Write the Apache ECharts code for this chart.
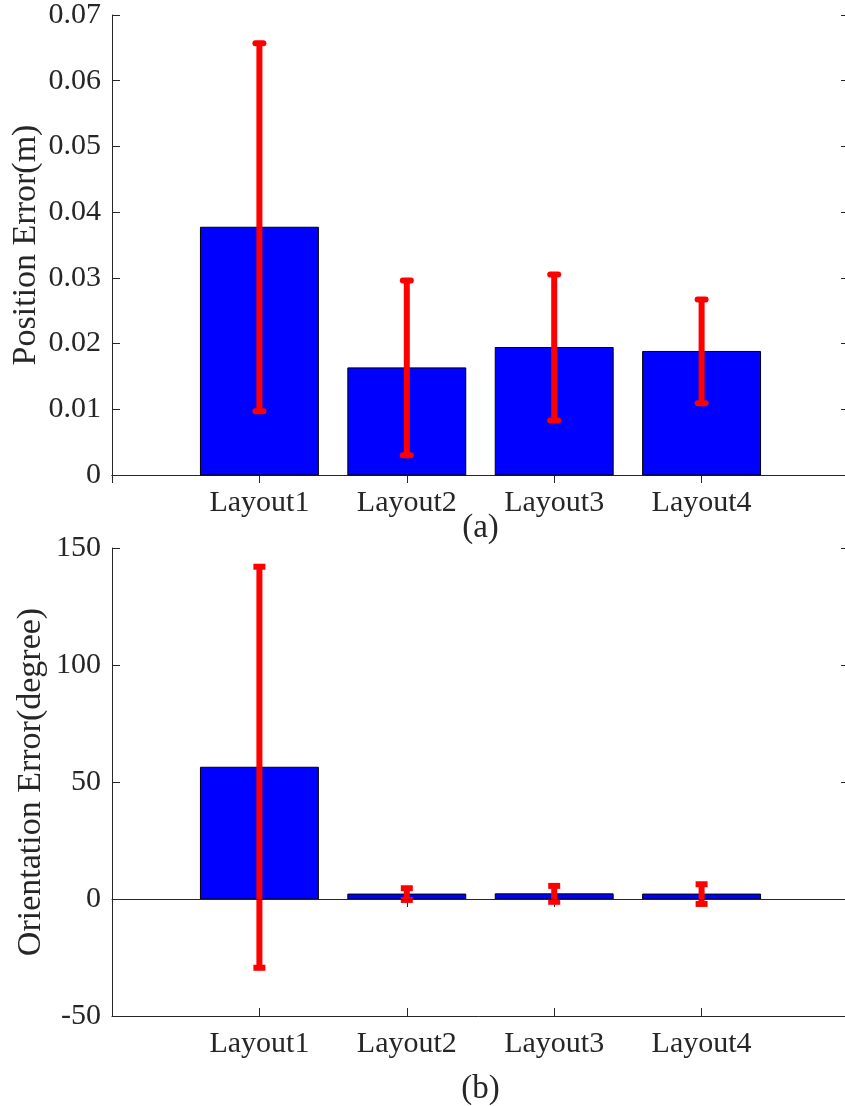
<!DOCTYPE html>
<html>
<head>
<meta charset="utf-8">
<script src="https://cdn.jsdelivr.net/npm/echarts@6/dist/echarts.min.js"></script>
<style>
  html, body { margin: 0; padding: 0; background: #fff; overflow: hidden; }
  #chart { width: 845px; height: 1106px; }
</style>
</head>
<body>
<div id="chart"></div>
<script>
// data
var categories = ['Layout1', 'Layout2', 'Layout3', 'Layout4'];
var posMean = [0.0377, 0.0163, 0.0194, 0.0188];
var posStd = [0.0280, 0.0133, 0.0111, 0.0079];
var oriMean = [56.3, 2.1, 2.2, 2.1];
var oriStd = [85.7, 2.5, 3.4, 4.2];
var posTicks = { min: 0, max: 0.07, interval: 0.01 };
var oriTicks = { min: -50, max: 150, interval: 50 };

var ink = '#262626';
var font = 'Liberation Serif';

function barItems(mean) {
  return mean.map(function (v, i) { return [i + 1, v]; });
}
function errItems(mean, std) {
  return mean.map(function (v, i) { return [i + 1, v - std[i], v + std[i]]; });
}

// blue bars, drawn through the axis scale
function renderBar(params, api) {
  var x = api.value(0);
  var top = api.coord([x, api.value(1)]);
  var base = api.coord([x, 0]);
  var w = api.size([0.8, 0])[0];
  return {
    type: 'rect',
    shape: { x: top[0] - w / 2, y: Math.min(top[1], base[1]), width: w, height: Math.abs(base[1] - top[1]) },
    style: { fill: '#0000ff', stroke: '#000', lineWidth: 1 }
  };
}

function makeErr(capW, cap) {
  return function (params, api) {
    var x = api.value(0);
    var lo = api.coord([x, api.value(1)]);
    var hi = api.coord([x, api.value(2)]);
    var st = { stroke: '#ff0000', lineWidth: 6, lineCap: cap };
    return {
      type: 'group',
      children: [
        { type: 'line', shape: { x1: lo[0], y1: lo[1], x2: hi[0], y2: hi[1] }, style: { stroke: '#ff0000', lineWidth: 6 } },
        { type: 'line', shape: { x1: hi[0] - capW, y1: hi[1], x2: hi[0] + capW, y2: hi[1] }, style: st },
        { type: 'line', shape: { x1: lo[0] - capW, y1: lo[1], x2: lo[0] + capW, y2: lo[1] }, style: st }
      ]
    };
  };
}

function xAxes(gi, name, gap) {
  return [{
    type: 'value', gridIndex: gi, position: 'bottom', min: 0, max: 5, interval: 1,
    name: name, nameLocation: 'middle', nameGap: gap, nameMoveOverlap: false,
    nameTextStyle: { fontFamily: font, fontSize: 33, color: ink },
    axisLine: { onZero: false, lineStyle: { color: ink, width: 1 } },
    axisTick: { inside: true, length: 8, lineStyle: { color: ink } },
    axisLabel: {
      margin: 13, fontFamily: font, fontSize: 30, color: ink,
      formatter: function (v) { return categories[v - 1] || ''; }
    },
    splitLine: { show: false }
  }, {
    type: 'value', gridIndex: gi, position: 'top', min: 0, max: 5, interval: 1,
    axisLine: { lineStyle: { color: ink, width: 1 } },
    axisTick: { inside: true, length: 8, lineStyle: { color: ink } },
    axisLabel: { show: false },
    splitLine: { show: false }
  }];
}

function yAxes(gi, t, name, gap, fmt) {
  return [{
    type: 'value', gridIndex: gi, position: 'left', min: t.min, max: t.max, interval: t.interval,
    name: name, nameLocation: 'middle', nameGap: gap, nameMoveOverlap: false,
    nameTextStyle: { fontFamily: font, fontSize: 34, color: ink },
    axisLine: { show: true, onZero: false, lineStyle: { color: ink, width: 1 } },
    axisTick: { show: true, inside: true, length: 8, lineStyle: { color: ink } },
    axisLabel: { margin: 11, fontFamily: font, fontSize: 30, color: ink, formatter: fmt },
    splitLine: { show: false }
  }, {
    type: 'value', gridIndex: gi, position: 'right', min: t.min, max: t.max, interval: t.interval,
    axisLine: { show: true, onZero: false, lineStyle: { color: ink, width: 1 } },
    axisTick: { show: true, inside: true, length: 8, lineStyle: { color: ink } },
    axisLabel: { show: false },
    splitLine: { show: false }
  }];
}

var chart = echarts.init(document.getElementById('chart'), null, { renderer: 'canvas' });
chart.setOption({
  animation: false,
  backgroundColor: '#fff',
  grid: [
    { left: 112, top: 15, width: 737, height: 460, containLabel: false, outerBoundsMode: 'none' },
    { left: 112, top: 548, width: 737, height: 468, containLabel: false, outerBoundsMode: 'none' }
  ],
  xAxis: xAxes(0, '(a)', 37).concat(xAxes(1, '(b)', 57)),
  yAxis: yAxes(0, posTicks, 'Position Error(m)', 69, function (v) { return v === 0 ? '0' : v.toFixed(2); })
    .concat(yAxes(1, oriTicks, 'Orientation Error(degree)', 64, function (v) { return String(v); })),
  series: [
    { type: 'custom', xAxisIndex: 0, yAxisIndex: 0, renderItem: renderBar, data: barItems(posMean), z: 2 },
    { type: 'custom', xAxisIndex: 0, yAxisIndex: 0, renderItem: makeErr(4, 'round'), data: errItems(posMean, posStd), z: 3 },
    {
      type: 'custom', xAxisIndex: 2, yAxisIndex: 2, renderItem: renderBar, data: barItems(oriMean), z: 2,
      markLine: {
        silent: true, symbol: 'none', label: { show: false },
        lineStyle: { color: ink, width: 1, type: 'solid' },
        data: [{ yAxis: 0 }]
      }
    },
    { type: 'custom', xAxisIndex: 2, yAxisIndex: 2, renderItem: makeErr(3, 'square'), data: errItems(oriMean, oriStd), z: 3 }
  ]
});
</script>
</body>
</html>
